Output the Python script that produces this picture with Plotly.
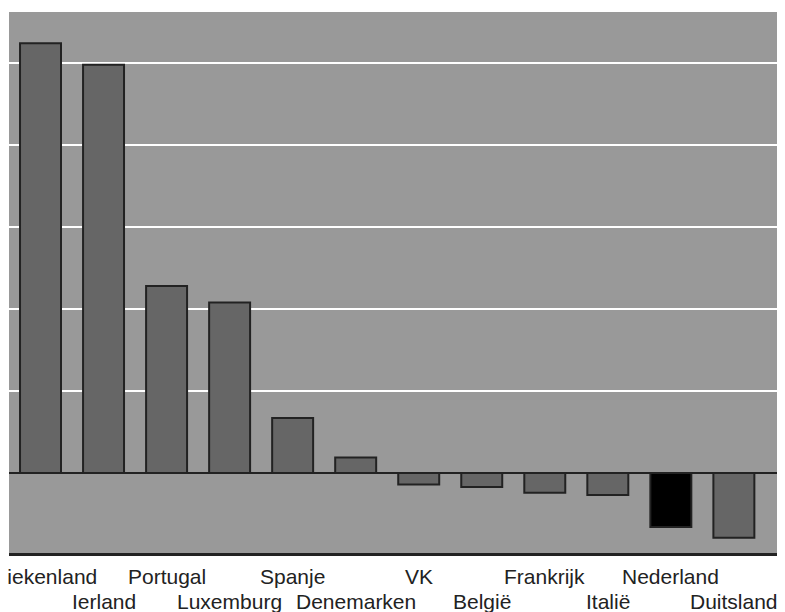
import plotly.graph_objects as go

# landen, volgorde zoals in de grafiek
landen = ["Griekenland", "Ierland", "Portugal", "Luxemburg", "Spanje", "Denemarken",
          "VK", "België", "Frankrijk", "Italië", "Nederland", "Duitsland"]
waarden = [5.24, 4.98, 2.28, 2.08, 0.67, 0.19,
           -0.14, -0.17, -0.24, -0.27, -0.66, -0.79]
kleuren = ["#666666"] * len(landen)
kleuren[landen.index("Nederland")] = "#000000"  # Nederland uitgelicht

fig = go.Figure()
fig.add_trace(go.Bar(
    x=landen,
    y=waarden,
    width=0.65,
    marker=dict(color=kleuren, line=dict(color="#222222", width=2)),
    showlegend=False,
))

# labels om en om op twee regels
for i, land in enumerate(landen):
    fig.add_annotation(
        x=land, y=0, xref="x", yref="paper",
        text=land, showarrow=False,
        yanchor="middle", yshift=-23 if i % 2 == 0 else -48,
        font=dict(family="Liberation Sans, Arial", size=21, color="#222222"),
    )

# de pagina zet de figuur 8px naar rechts/onder, dus iets kleiner
fig.update_layout(
    width=777, height=604,
    margin=dict(l=1, r=7, t=4, b=59),
    paper_bgcolor="white",
    plot_bgcolor="#999999",
    bargap=0.35,
)
fig.update_xaxes(
    range=[-0.5, 11.7],
    showticklabels=False, ticks="",
    showgrid=False,
    showline=True, linecolor="#222222", linewidth=3,
)
fig.update_yaxes(
    range=[-0.976, 5.622],
    dtick=1,
    showticklabels=False, ticks="",
    gridcolor="white", gridwidth=2,
    zeroline=True, zerolinecolor="#222222", zerolinewidth=2,
)

fig.write_html("out.html")
